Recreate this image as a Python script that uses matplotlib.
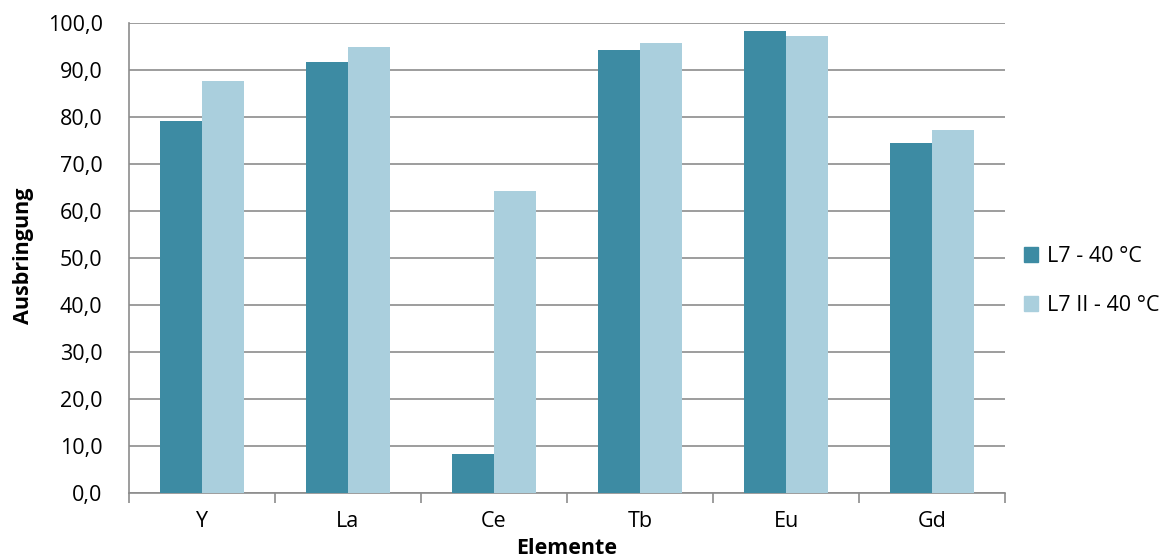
import matplotlib
matplotlib.use("Agg")
import matplotlib.pyplot as plt
import numpy as np
from matplotlib.patches import Patch

categories = ["Y", "La", "Ce", "Tb", "Eu", "Gd"]
series_names = ["L7 - 40 °C", "L7 II - 40 °C"]
l7 = [79.2, 91.7, 8.2, 94.3, 98.3, 74.6]
l7ii = [87.8, 94.9, 64.3, 95.9, 97.3, 77.2]
colors = ["#3D8BA3", "#AACFDD"]

plt.rcParams['font.family'] = ['Open Sans', 'DejaVu Sans']
FS = 15.5

fig = plt.figure(figsize=(11.65, 5.59), dpi=100)
ax = fig.add_axes([129/1165, 66/559, 876/1165, 469.7/559])

x = np.arange(len(categories))
w = 0.2877
ax.bar(x - w/2, l7, width=w, color=colors[0], zorder=3)
ax.bar(x + w/2, l7ii, width=w, color=colors[1], zorder=3)

ax.set_xlim(-0.5, len(categories) - 0.5)
ax.set_ylim(0, 100)
ax.set_yticks(np.arange(0, 101, 10))
ax.set_yticklabels([f"{v:.1f}".replace(".", ",") for v in np.arange(0, 101, 10)], fontsize=FS)
ax.yaxis.grid(True, color="#8C8C8C", linewidth=1.2, zorder=0)
ax.tick_params(axis="y", length=0, pad=19)

ax.set_xticks(x)
ax.set_xticklabels(categories, fontsize=FS)
ax.tick_params(axis="x", length=0, pad=13)
ax.set_xticks(np.arange(-0.5, len(categories), 1), minor=True)
ax.tick_params(axis="x", which="minor", length=7, color="#8C8C8C", width=1.2)

for s in ["top", "right"]:
    ax.spines[s].set_visible(False)
for s in ["left", "bottom"]:
    ax.spines[s].set_color("#8C8C8C")
    ax.spines[s].set_linewidth(1.2)

fig.text(23/1165, 1 - 256/559, "Ausbringung", rotation=90, fontsize=FS, fontweight="bold",
         ha="center", va="center")
fig.text(567/1165, 1 - 549/559, "Elemente", fontsize=FS, fontweight="bold", ha="center", va="center")

handles = [Patch(color=c) for c in colors]
fig.legend(handles, series_names, loc="center left", bbox_to_anchor=(1005/1165, 1 - 281/559),
           frameon=False, fontsize=FS, handlelength=0.65, handleheight=0.65,
           labelspacing=1.3, handletextpad=0.4)

fig.savefig("out.png", dpi=100)
